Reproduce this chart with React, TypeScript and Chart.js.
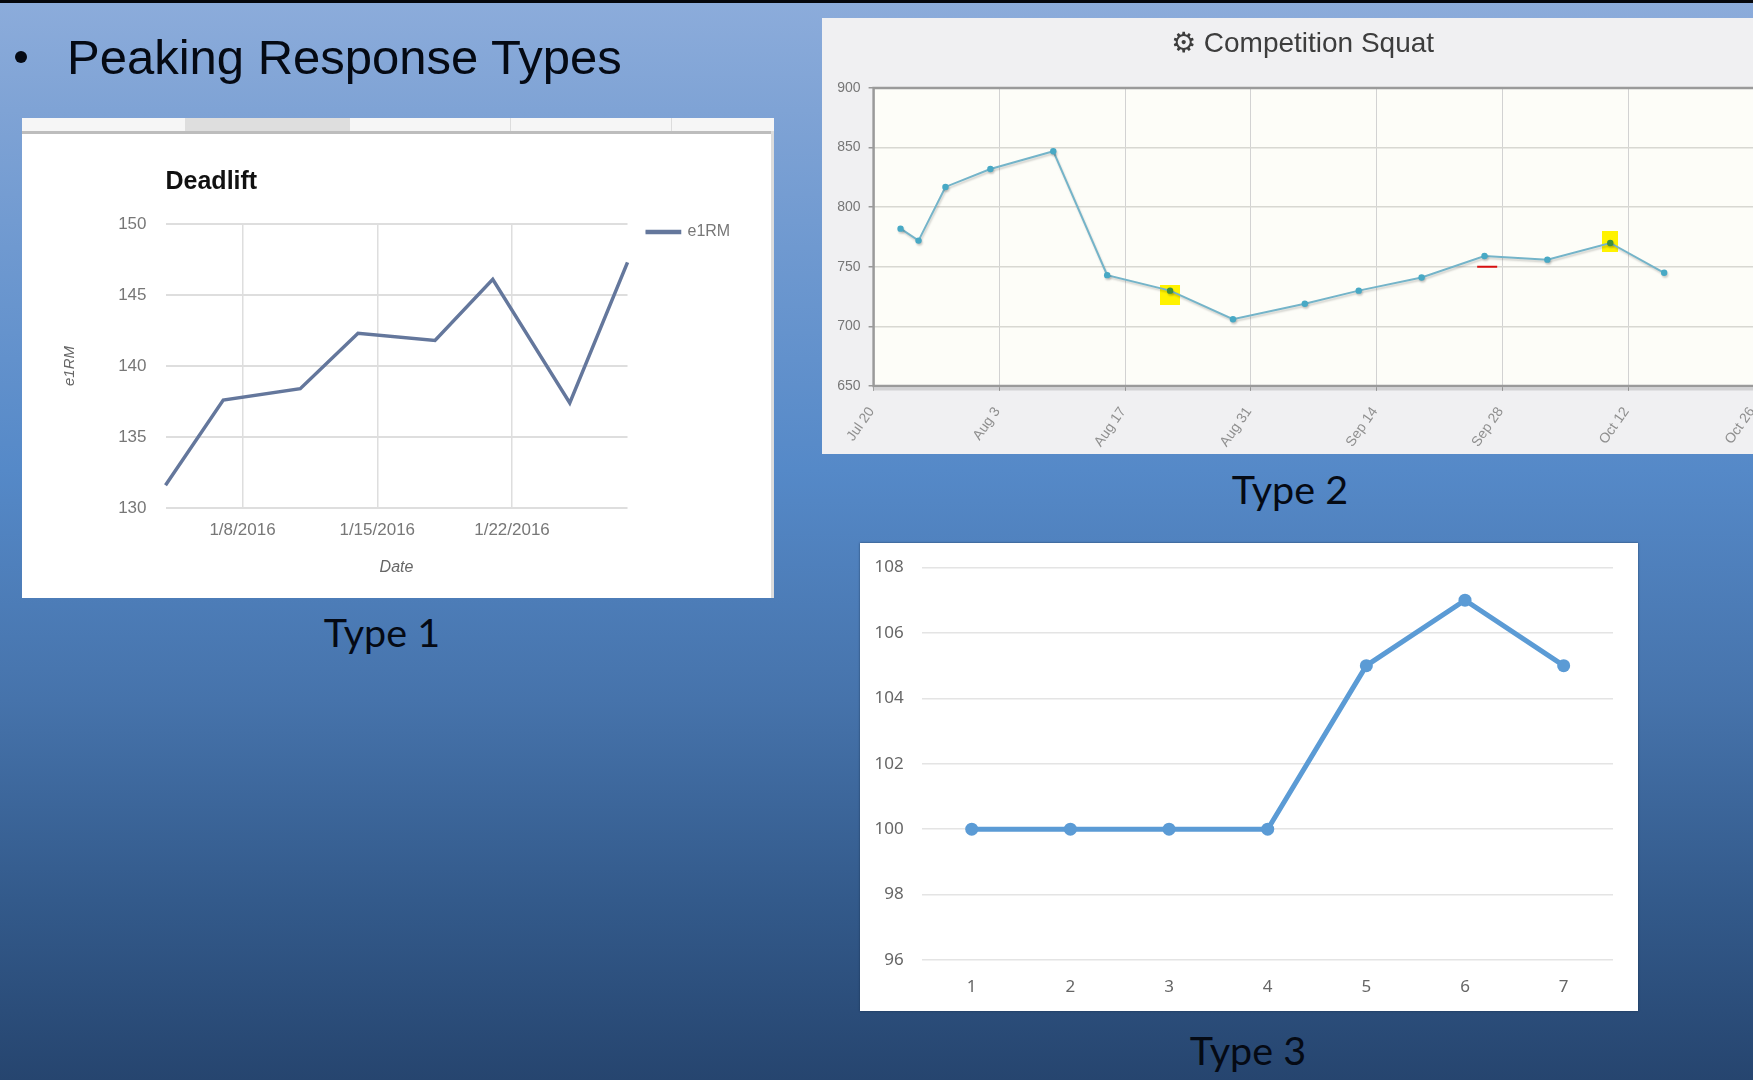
import React, { useEffect, useRef } from "react";
import { Chart, registerables } from "chart.js";

Chart.register(...registerables);

// ---- Type 1: Deadlift (x = day of January 2016)
const deadliftDays = [4, 7, 11, 14, 18, 21, 25, 28];
const deadliftValues = [131.6, 137.6, 138.4, 142.3, 141.8, 146.1, 137.4, 147.3];
const deadliftTickDays = [8, 15, 22];
const deadliftTickLabels = ["1/8/2016", "1/15/2016", "1/22/2016"];

// ---- Type 2: Competition Squat (x = days since Jul 20)
const squatDays = [3, 5, 8, 13, 20, 26, 33, 40, 48, 54, 61, 68, 75, 82, 88];
const squatValues = [782, 772, 817, 832, 847, 743, 730, 706, 719, 730, 741, 759, 756, 770, 745];
const squatTickDays = [0, 14, 28, 42, 56, 70, 84, 98];
const squatTickLabels = ["Jul 20", "Aug 3", "Aug 17", "Aug 31", "Sep 14", "Sep 28", "Oct 12", "Oct 26"];
const squatMarkedDays = [33, 82];
const squatMarkerA = { x: 33, y: 726 };
const squatMarkerB = { x: 82, y: 771 };
const squatTarget = { x: 68.3, y: 750 };

// ---- Type 3
const type3Categories = ["1", "2", "3", "4", "5", "6", "7"];
const type3Values = [100, 100, 100, 100, 105, 107, 105];

const SANS = '"Liberation Sans", Arial, sans-serif';
const NOTO = '"Noto Sans", sans-serif';

function makeRect(w: number, h: number, color: string) {
  const c = document.createElement("canvas");
  c.width = w;
  c.height = h;
  const g = c.getContext("2d")!;
  g.fillStyle = color;
  g.fillRect(0, 0, w, h);
  return c;
}

const fixWidth = (w: number) => (s: any) => { s.width = w; s.paddingTop = 0; s.paddingBottom = 0; };
const fixHeight = (h: number) => (s: any) => { s.height = h; };

export default function App() {
  const ref1 = useRef<HTMLCanvasElement>(null);
  const ref2 = useRef<HTMLCanvasElement>(null);
  const ref3 = useRef<HTMLCanvasElement>(null);

  useEffect(() => {
    const c1 = new Chart(ref1.current!, {
      type: "line",
      data: {
        datasets: [
          {
            label: "e1RM",
            data: deadliftDays.map((x, i) => ({ x, y: deadliftValues[i] })),
            borderColor: "#64779c",
            backgroundColor: "#64779c",
            borderWidth: 3.5,
            pointRadius: 0,
            tension: 0,
            clip: false,
          },
        ],
      },
      plugins: [
        {
          id: "legendShift",
          afterLayout(chart: any) {
            chart.legend.left += 18;
            chart.legend.right += 18;
          },
        },
      ],
      options: {
        responsive: false,
        animation: false,
        events: [],
        layout: { padding: { left: 30, right: 52.8, top: 0, bottom: 0 } },
        plugins: {
          tooltip: { enabled: false },
          title: {
            display: true,
            text: "Deadlift",
            align: "start",
            fullSize: false,
            color: "#111",
            font: { family: SANS, size: 25, weight: "bold" },
            padding: { top: 49, bottom: 27 },
          },
          legend: {
            display: true,
            position: "right",
            align: "start",
            fullSize: false,
            labels: {
              boxWidth: 34,
              boxHeight: 1,
              padding: 0,
              color: "#777",
              font: { family: SANS, size: 16 },
            },
          },
        },
        scales: {
          x: {
            type: "linear",
            min: 4,
            max: 28,
            afterBuildTicks: (s: any) => { s.ticks = deadliftTickDays.map((value) => ({ value })); },
            afterFit: fixHeight(90),
            grid: { color: "#dedede", lineWidth: 1.5, drawTicks: false },
            border: { display: false },
            ticks: {
              padding: 12,
              maxRotation: 0,
              autoSkip: false,
              color: "#777",
              font: { family: SANS, size: 17 },
              callback: (v: any) => deadliftTickLabels[deadliftTickDays.indexOf(v)],
            },
            title: {
              display: true,
              text: "Date",
              color: "#666",
              font: { family: SANS, size: 16, style: "italic" },
              padding: { top: 0, bottom: 21 },
            },
          },
          y: {
            min: 130,
            max: 150,
            afterFit: fixWidth(113.5),
            grid: { color: "#dedede", lineWidth: 2, drawTicks: false },
            border: { display: false },
            ticks: {
              stepSize: 5,
              padding: 19,
              color: "#777",
              font: { family: SANS, size: 17 },
            },
            title: {
              display: true,
              text: "e1RM",
              color: "#666",
              font: { family: SANS, size: 15, style: "italic" },
              padding: { top: 9, bottom: 0 },
            },
          },
        },
      } as any,
    } as any);

    const c2 = new Chart(ref2.current!, {
      type: "line",
      data: {
        datasets: [
          {
            label: "Competition Squat",
            order: 1,
            data: squatDays.map((x, i) => ({ x, y: squatValues[i] })),
            borderColor: "#74b4c9",
            borderWidth: 2,
            pointRadius: 3.2,
            pointBorderWidth: 0,
            pointBackgroundColor: squatDays.map((d) => (squatMarkedDays.includes(d) ? "#3f8f3f" : "#48a9c5")),
            tension: 0,
          },
          {
            label: "Marker A",
            order: 2,
            showLine: false,
            data: [squatMarkerA],
            pointRadius: 10,
            pointStyle: makeRect(20, 20, "#fff200"),
          },
          {
            label: "Marker B",
            order: 2,
            showLine: false,
            data: [squatMarkerB],
            pointRadius: 10,
            pointStyle: makeRect(16, 21, "#fff200"),
          },
          {
            label: "Target",
            order: 0,
            showLine: false,
            data: [squatTarget],
            pointStyle: "line",
            pointRadius: 10,
            pointBorderWidth: 2,
            pointBorderColor: "#d81010",
          },
        ],
      },
      plugins: [
        {
          id: "plotFrame",
          afterLayout(chart: any) {
            chart.titleBlock.left += 14.5;
            chart.titleBlock.right += 14.5;
          },
          beforeDraw(chart: any) {
            const { ctx, chartArea: a } = chart;
            ctx.save();
            ctx.fillStyle = "#fdfdf8";
            ctx.fillRect(a.left, a.top, a.right - a.left, a.bottom - a.top);
            ctx.restore();
          },
          afterDraw(chart: any) {
            const { ctx, chartArea: a } = chart;
            ctx.save();
            ctx.strokeStyle = "rgba(0,0,0,0.12)";
            ctx.lineWidth = 3;
            ctx.beginPath();
            ctx.moveTo(a.left, a.bottom + 3);
            ctx.lineTo(a.right, a.bottom + 3);
            ctx.stroke();
            ctx.strokeStyle = "#9a9a9a";
            ctx.lineWidth = 2.5;
            ctx.beginPath();
            ctx.moveTo(a.right, a.top);
            ctx.lineTo(a.left, a.top);
            ctx.lineTo(a.left, a.bottom);
            ctx.lineTo(a.right, a.bottom);
            ctx.stroke();
            ctx.restore();
          },
          beforeDatasetDraw(chart: any, args: any) {
            if (args.index !== 0) return;
            const ctx = chart.ctx;
            ctx.save();
            ctx.shadowColor = "rgba(0,0,0,0.18)";
            ctx.shadowOffsetX = 1;
            ctx.shadowOffsetY = 2;
            ctx.shadowBlur = 2;
          },
          afterDatasetDraw(chart: any, args: any) {
            if (args.index !== 0) return;
            chart.ctx.restore();
          },
        },
      ],
      options: {
        responsive: false,
        animation: false,
        events: [],
        layout: { padding: { left: 0, right: 29, top: 0, bottom: 0 } },
        plugins: {
          tooltip: { enabled: false },
          legend: { display: false },
          title: {
            display: true,
            text: "⚙ Competition Squat",
            color: "#3d3d3d",
            font: { family: '"Liberation Sans", "DejaVu Sans", sans-serif', size: 28, weight: "normal" },
            padding: { top: 9, bottom: 27.4 },
          },
        },
        scales: {
          x: {
            type: "linear",
            min: 0,
            max: 98,
            afterBuildTicks: (s: any) => { s.ticks = squatTickDays.map((value) => ({ value })); },
            afterFit: fixHeight(68),
            grid: { color: "#d2d2d2", lineWidth: 1, tickLength: 5, tickColor: "#aaa" },
            border: { display: false },
            ticks: {
              padding: 13,
              labelOffset: -2,
              minRotation: 55,
              maxRotation: 55,
              autoSkip: false,
              color: "#8f8f8f",
              font: { family: SANS, size: 14 },
              callback: (v: any) => squatTickLabels[squatTickDays.indexOf(v)],
            },
          },
          y: {
            min: 650,
            max: 900,
            afterFit: fixWidth(51.6),
            grid: { color: "#d8d8d2", lineWidth: 1.5, tickLength: 5, tickColor: "#999" },
            border: { display: false },
            ticks: {
              stepSize: 50,
              padding: 8,
              color: "#777",
              font: { family: SANS, size: 14 },
            },
          },
        },
      } as any,
    } as any);

    const c3 = new Chart(ref3.current!, {
      type: "line",
      data: {
        labels: type3Categories,
        datasets: [
          {
            label: "Type 3",
            data: type3Values,
            borderColor: "#5b9bd5",
            backgroundColor: "#5b9bd5",
            borderWidth: 5,
            pointRadius: 6.5,
            pointBorderWidth: 0,
            pointBackgroundColor: "#5b9bd5",
            tension: 0,
          },
        ],
      },
      options: {
        responsive: false,
        animation: false,
        events: [],
        layout: { padding: { left: 0, right: 25, top: 24.5, bottom: 0 } },
        plugins: { tooltip: { enabled: false }, legend: { display: false }, title: { display: false } },
        scales: {
          x: {
            offset: true,
            afterFit: fixHeight(51),
            grid: { display: false },
            border: { display: false },
            ticks: { padding: 8.5, maxRotation: 0, color: "#666", font: { family: NOTO, size: 17 } },
          },
          y: {
            min: 96,
            max: 108,
            afterFit: fixWidth(62.4),
            grid: { color: "#e4e4e4", lineWidth: 1.5, drawTicks: false },
            border: { display: false },
            ticks: { stepSize: 2, padding: 18.8, color: "#666", font: { family: NOTO, size: 17 } },
          },
        },
      } as any,
    } as any);

    return () => {
      c1.destroy();
      c2.destroy();
      c3.destroy();
    };
  }, []);

  const caption = (text: string, cx: number, cy: number) => (
    <div
      style={{
        position: "absolute",
        left: cx - 100,
        top: cy - 30,
        width: 200,
        height: 60,
        lineHeight: "60px",
        textAlign: "center",
        fontFamily: 'Lato, "Noto Sans", sans-serif',
        fontSize: 39.5,
        color: "#050a14",
      }}
    >
      {text}
    </div>
  );

  return (
    <div
      style={{
        position: "absolute",
        left: 0,
        top: 0,
        width: 1753,
        height: 1080,
        overflow: "hidden",
        background:
          "linear-gradient(180deg, #8cacdb 0px, #7fa3d5 110px, #5589c8 470px, #4673ab 700px, #335a8b 900px, #26456f 1080px)",
      }}
    >
      <div style={{ position: "absolute", left: 0, top: 0, width: 1753, height: 3, background: "#05070c" }} />

      <div
        style={{
          position: "absolute",
          left: 15,
          top: 51,
          width: 12,
          height: 12,
          borderRadius: 6,
          background: "#050a14",
        }}
      />
      <div
        style={{
          position: "absolute",
          left: 67,
          top: 25,
          height: 64,
          lineHeight: "64px",
          fontFamily: SANS,
          fontSize: 49,
          color: "#050a14",
          whiteSpace: "nowrap",
        }}
      >
        Peaking Response Types
      </div>

      {/* Type 1 panel */}
      <div style={{ position: "absolute", left: 21.5, top: 118, width: 752.5, height: 480, background: "#fff" }} />
      <div style={{ position: "absolute", left: 21.5, top: 118, width: 752.5, height: 13, background: "#f6f6f6" }} />
      <div style={{ position: "absolute", left: 185, top: 118, width: 165, height: 13, background: "#dedede" }} />
      <div style={{ position: "absolute", left: 510, top: 118, width: 1, height: 13, background: "#dcdcdc" }} />
      <div style={{ position: "absolute", left: 671, top: 118, width: 1, height: 13, background: "#dcdcdc" }} />
      <div style={{ position: "absolute", left: 21.5, top: 131, width: 752.5, height: 2.5, background: "#bdbdbd" }} />
      <div style={{ position: "absolute", left: 771, top: 131, width: 3, height: 467, background: "#dcdcdc" }} />
      <canvas
        ref={ref1}
        width={753}
        height={480}
        style={{ position: "absolute", left: 21.5, top: 118, filter: "blur(0.7px)" }}
      />
      {caption("Type 1", 382, 632)}

      {/* Type 2 panel */}
      <div style={{ position: "absolute", left: 822, top: 18, width: 931, height: 436, background: "#f0f0f2" }} />
      <canvas
        ref={ref2}
        width={961}
        height={436}
        style={{ position: "absolute", left: 822, top: 18, filter: "blur(0.3px)" }}
      />
      {caption("Type 2", 1290, 489)}

      {/* Type 3 panel */}
      <div
        style={{
          position: "absolute",
          left: 860,
          top: 543,
          width: 778,
          height: 468,
          background: "#fff",
          boxShadow: "0 0 2px rgba(20,40,70,0.7)",
        }}
      />
      <canvas
        ref={ref3}
        width={778}
        height={468}
        style={{ position: "absolute", left: 860, top: 543, filter: "blur(0.3px)" }}
      />
      {caption("Type 3", 1248, 1050)}
    </div>
  );
}
